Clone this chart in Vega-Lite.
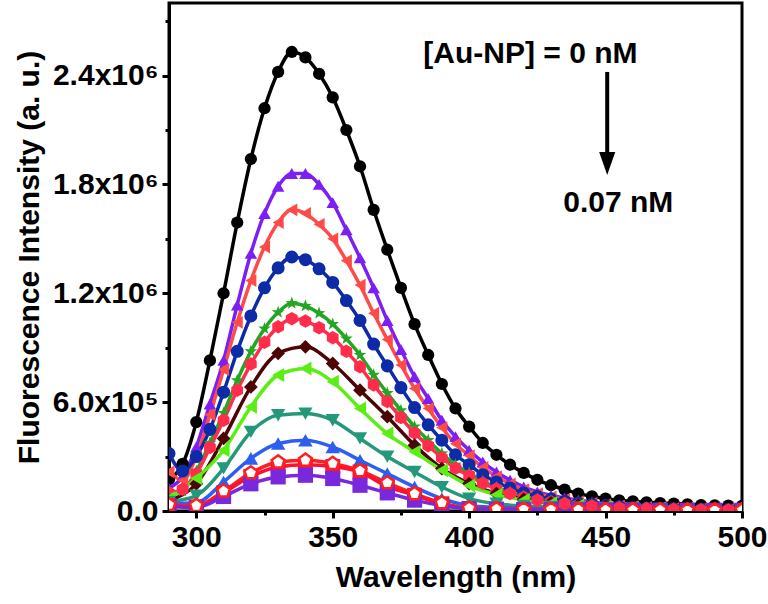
{
  "$schema": "https://vega.github.io/schema/vega-lite/v6.json",
  "width": 573,
  "height": 508,
  "autosize": "none",
  "padding": {"left": 169, "top": 3, "right": 26, "bottom": 93},
  "config": {
    "font": "Liberation Sans",
    "view": {"stroke": "black", "strokeWidth": 3},
    "axis": {
      "grid": false,
      "domainColor": "black",
      "domainWidth": 3,
      "tickColor": "black",
      "tickWidth": 3,
      "labelColor": "black",
      "labelFontSize": 30,
      "labelFontWeight": "bold",
      "labelFlush": false,
      "labelOverlap": false,
      "titleColor": "black",
      "titleFontSize": 30,
      "titleFontWeight": "bold"
    }
  },
  "datasets": {
    "spectra": [
      {"s":"s01","wl":290,"v":175000},{"s":"s01","wl":295,"v":260000},{"s":"s01","wl":300,"v":490000},{"s":"s01","wl":305,"v":830000},{"s":"s01","wl":310,"v":1200000},{"s":"s01","wl":315,"v":1590000},{"s":"s01","wl":320,"v":1940000},{"s":"s01","wl":325,"v":2220000},{"s":"s01","wl":330,"v":2420000},{"s":"s01","wl":335,"v":2530000},{"s":"s01","wl":340,"v":2500000},{"s":"s01","wl":345,"v":2410000},{"s":"s01","wl":350,"v":2280000},{"s":"s01","wl":355,"v":2100000},{"s":"s01","wl":360,"v":1900000},{"s":"s01","wl":365,"v":1660000},{"s":"s01","wl":370,"v":1440000},{"s":"s01","wl":375,"v":1230000},{"s":"s01","wl":380,"v":1030000},{"s":"s01","wl":385,"v":860000},{"s":"s01","wl":390,"v":700000},{"s":"s01","wl":395,"v":565000},{"s":"s01","wl":400,"v":465000},{"s":"s01","wl":405,"v":375000},{"s":"s01","wl":410,"v":310000},{"s":"s01","wl":415,"v":255000},{"s":"s01","wl":420,"v":210000},{"s":"s01","wl":425,"v":172000},{"s":"s01","wl":430,"v":142000},{"s":"s01","wl":435,"v":118000},{"s":"s01","wl":440,"v":96000},{"s":"s01","wl":445,"v":81000},{"s":"s01","wl":450,"v":68000},{"s":"s01","wl":455,"v":59000},{"s":"s01","wl":460,"v":53000},{"s":"s01","wl":465,"v":48000},{"s":"s01","wl":470,"v":44000},{"s":"s01","wl":475,"v":41000},{"s":"s01","wl":480,"v":37000},{"s":"s01","wl":485,"v":33000},{"s":"s01","wl":490,"v":31000},{"s":"s01","wl":495,"v":30000},{"s":"s01","wl":500,"v":28000},
      {"s":"s02","wl":290,"v":125000},{"s":"s02","wl":295,"v":190000},{"s":"s02","wl":300,"v":353000},{"s":"s02","wl":305,"v":590000},{"s":"s02","wl":310,"v":830000},{"s":"s02","wl":315,"v":1135000},{"s":"s02","wl":320,"v":1420000},{"s":"s02","wl":325,"v":1640000},{"s":"s02","wl":330,"v":1790000},{"s":"s02","wl":335,"v":1860000},{"s":"s02","wl":340,"v":1860000},{"s":"s02","wl":345,"v":1800000},{"s":"s02","wl":350,"v":1700000},{"s":"s02","wl":355,"v":1550000},{"s":"s02","wl":360,"v":1395000},{"s":"s02","wl":365,"v":1230000},{"s":"s02","wl":370,"v":1050000},{"s":"s02","wl":375,"v":890000},{"s":"s02","wl":380,"v":740000},{"s":"s02","wl":385,"v":620000},{"s":"s02","wl":390,"v":500000},{"s":"s02","wl":395,"v":410000},{"s":"s02","wl":400,"v":335000},{"s":"s02","wl":405,"v":270000},{"s":"s02","wl":410,"v":215000},{"s":"s02","wl":415,"v":170000},{"s":"s02","wl":420,"v":133000},{"s":"s02","wl":425,"v":105000},{"s":"s02","wl":430,"v":87000},{"s":"s02","wl":435,"v":72000},{"s":"s02","wl":440,"v":60000},{"s":"s02","wl":445,"v":50000},{"s":"s02","wl":450,"v":40000},{"s":"s02","wl":455,"v":33000},{"s":"s02","wl":460,"v":27000},{"s":"s02","wl":465,"v":23000},{"s":"s02","wl":470,"v":19000},{"s":"s02","wl":475,"v":16000},{"s":"s02","wl":480,"v":14000},{"s":"s02","wl":485,"v":12000},{"s":"s02","wl":490,"v":11000},{"s":"s02","wl":495,"v":10000},{"s":"s02","wl":500,"v":9000},
      {"s":"s03","wl":290,"v":215000},{"s":"s03","wl":295,"v":170000},{"s":"s03","wl":300,"v":300000},{"s":"s03","wl":305,"v":530000},{"s":"s03","wl":310,"v":780000},{"s":"s03","wl":315,"v":1040000},{"s":"s03","wl":320,"v":1270000},{"s":"s03","wl":325,"v":1455000},{"s":"s03","wl":330,"v":1590000},{"s":"s03","wl":335,"v":1660000},{"s":"s03","wl":340,"v":1640000},{"s":"s03","wl":345,"v":1580000},{"s":"s03","wl":350,"v":1500000},{"s":"s03","wl":355,"v":1380000},{"s":"s03","wl":360,"v":1245000},{"s":"s03","wl":365,"v":1090000},{"s":"s03","wl":370,"v":945000},{"s":"s03","wl":375,"v":805000},{"s":"s03","wl":380,"v":675000},{"s":"s03","wl":385,"v":565000},{"s":"s03","wl":390,"v":460000},{"s":"s03","wl":395,"v":370000},{"s":"s03","wl":400,"v":305000},{"s":"s03","wl":405,"v":240000},{"s":"s03","wl":410,"v":190000},{"s":"s03","wl":415,"v":150000},{"s":"s03","wl":420,"v":118000},{"s":"s03","wl":425,"v":95000},{"s":"s03","wl":430,"v":78000},{"s":"s03","wl":435,"v":65000},{"s":"s03","wl":440,"v":52000},{"s":"s03","wl":445,"v":43000},{"s":"s03","wl":450,"v":35000},{"s":"s03","wl":455,"v":28000},{"s":"s03","wl":460,"v":24000},{"s":"s03","wl":465,"v":20000},{"s":"s03","wl":470,"v":17000},{"s":"s03","wl":475,"v":14000},{"s":"s03","wl":480,"v":12000},{"s":"s03","wl":485,"v":11000},{"s":"s03","wl":490,"v":10000},{"s":"s03","wl":495,"v":9000},{"s":"s03","wl":500,"v":8000},
      {"s":"s04","wl":290,"v":317000},{"s":"s04","wl":295,"v":220000},{"s":"s04","wl":300,"v":300000},{"s":"s04","wl":305,"v":450000},{"s":"s04","wl":310,"v":655000},{"s":"s04","wl":315,"v":880000},{"s":"s04","wl":320,"v":1075000},{"s":"s04","wl":325,"v":1230000},{"s":"s04","wl":330,"v":1340000},{"s":"s04","wl":335,"v":1400000},{"s":"s04","wl":340,"v":1385000},{"s":"s04","wl":345,"v":1335000},{"s":"s04","wl":350,"v":1260000},{"s":"s04","wl":355,"v":1160000},{"s":"s04","wl":360,"v":1050000},{"s":"s04","wl":365,"v":920000},{"s":"s04","wl":370,"v":800000},{"s":"s04","wl":375,"v":680000},{"s":"s04","wl":380,"v":570000},{"s":"s04","wl":385,"v":475000},{"s":"s04","wl":390,"v":390000},{"s":"s04","wl":395,"v":310000},{"s":"s04","wl":400,"v":255000},{"s":"s04","wl":405,"v":200000},{"s":"s04","wl":410,"v":160000},{"s":"s04","wl":415,"v":127000},{"s":"s04","wl":420,"v":100000},{"s":"s04","wl":425,"v":80000},{"s":"s04","wl":430,"v":66000},{"s":"s04","wl":435,"v":54000},{"s":"s04","wl":440,"v":44000},{"s":"s04","wl":445,"v":36000},{"s":"s04","wl":450,"v":30000},{"s":"s04","wl":455,"v":24000},{"s":"s04","wl":460,"v":20000},{"s":"s04","wl":465,"v":17000},{"s":"s04","wl":470,"v":14000},{"s":"s04","wl":475,"v":12000},{"s":"s04","wl":480,"v":10000},{"s":"s04","wl":485,"v":9000},{"s":"s04","wl":490,"v":8000},{"s":"s04","wl":495,"v":7500},{"s":"s04","wl":500,"v":7000},
      {"s":"s05","wl":290,"v":90000},{"s":"s05","wl":295,"v":110000},{"s":"s05","wl":300,"v":220000},{"s":"s05","wl":305,"v":375000},{"s":"s05","wl":310,"v":540000},{"s":"s05","wl":315,"v":720000},{"s":"s05","wl":320,"v":880000},{"s":"s05","wl":325,"v":1005000},{"s":"s05","wl":330,"v":1095000},{"s":"s05","wl":335,"v":1145000},{"s":"s05","wl":340,"v":1130000},{"s":"s05","wl":345,"v":1090000},{"s":"s05","wl":350,"v":1030000},{"s":"s05","wl":355,"v":950000},{"s":"s05","wl":360,"v":860000},{"s":"s05","wl":365,"v":750000},{"s":"s05","wl":370,"v":650000},{"s":"s05","wl":375,"v":555000},{"s":"s05","wl":380,"v":465000},{"s":"s05","wl":385,"v":390000},{"s":"s05","wl":390,"v":317000},{"s":"s05","wl":395,"v":255000},{"s":"s05","wl":400,"v":210000},{"s":"s05","wl":405,"v":165000},{"s":"s05","wl":410,"v":130000},{"s":"s05","wl":415,"v":104000},{"s":"s05","wl":420,"v":81000},{"s":"s05","wl":425,"v":65000},{"s":"s05","wl":430,"v":54000},{"s":"s05","wl":435,"v":45000},{"s":"s05","wl":440,"v":36000},{"s":"s05","wl":445,"v":30000},{"s":"s05","wl":450,"v":24000},{"s":"s05","wl":455,"v":20000},{"s":"s05","wl":460,"v":17000},{"s":"s05","wl":465,"v":14000},{"s":"s05","wl":470,"v":12000},{"s":"s05","wl":475,"v":10000},{"s":"s05","wl":480,"v":9000},{"s":"s05","wl":485,"v":8000},{"s":"s05","wl":490,"v":7000},{"s":"s05","wl":495,"v":6000},{"s":"s05","wl":500,"v":5500},
      {"s":"s06","wl":290,"v":100000},{"s":"s06","wl":295,"v":120000},{"s":"s06","wl":300,"v":205000},{"s":"s06","wl":305,"v":350000},{"s":"s06","wl":310,"v":500000},{"s":"s06","wl":315,"v":665000},{"s":"s06","wl":320,"v":810000},{"s":"s06","wl":325,"v":930000},{"s":"s06","wl":330,"v":1015000},{"s":"s06","wl":335,"v":1060000},{"s":"s06","wl":340,"v":1047000},{"s":"s06","wl":345,"v":1010000},{"s":"s06","wl":350,"v":955000},{"s":"s06","wl":355,"v":880000},{"s":"s06","wl":360,"v":795000},{"s":"s06","wl":365,"v":695000},{"s":"s06","wl":370,"v":603000},{"s":"s06","wl":375,"v":515000},{"s":"s06","wl":380,"v":430000},{"s":"s06","wl":385,"v":360000},{"s":"s06","wl":390,"v":293000},{"s":"s06","wl":395,"v":236000},{"s":"s06","wl":400,"v":195000},{"s":"s06","wl":405,"v":153000},{"s":"s06","wl":410,"v":122000},{"s":"s06","wl":415,"v":96000},{"s":"s06","wl":420,"v":75000},{"s":"s06","wl":425,"v":60000},{"s":"s06","wl":430,"v":50000},{"s":"s06","wl":435,"v":41000},{"s":"s06","wl":440,"v":33000},{"s":"s06","wl":445,"v":28000},{"s":"s06","wl":450,"v":22000},{"s":"s06","wl":455,"v":18000},{"s":"s06","wl":460,"v":15000},{"s":"s06","wl":465,"v":13000},{"s":"s06","wl":470,"v":11000},{"s":"s06","wl":475,"v":9000},{"s":"s06","wl":480,"v":8000},{"s":"s06","wl":485,"v":7000},{"s":"s06","wl":490,"v":6000},{"s":"s06","wl":495,"v":5600},{"s":"s06","wl":500,"v":5000},
      {"s":"s07","wl":290,"v":60000},{"s":"s07","wl":300,"v":150000},{"s":"s07","wl":310,"v":400000},{"s":"s07","wl":320,"v":684000},{"s":"s07","wl":330,"v":869000},{"s":"s07","wl":340,"v":905000},{"s":"s07","wl":350,"v":813000},{"s":"s07","wl":360,"v":666000},{"s":"s07","wl":370,"v":520000},{"s":"s07","wl":380,"v":363000},{"s":"s07","wl":390,"v":234000},{"s":"s07","wl":400,"v":151000},{"s":"s07","wl":410,"v":96000},{"s":"s07","wl":420,"v":65000},{"s":"s07","wl":430,"v":45000},{"s":"s07","wl":440,"v":33000},{"s":"s07","wl":450,"v":25000},{"s":"s07","wl":460,"v":20000},{"s":"s07","wl":470,"v":16000},{"s":"s07","wl":480,"v":13000},{"s":"s07","wl":490,"v":11000},{"s":"s07","wl":500,"v":10000},
      {"s":"s08","wl":290,"v":70000},{"s":"s08","wl":300,"v":180000},{"s":"s08","wl":310,"v":335000},{"s":"s08","wl":320,"v":574000},{"s":"s08","wl":330,"v":749000},{"s":"s08","wl":340,"v":786000},{"s":"s08","wl":350,"v":712000},{"s":"s08","wl":360,"v":565000},{"s":"s08","wl":370,"v":427000},{"s":"s08","wl":380,"v":326000},{"s":"s08","wl":390,"v":225000},{"s":"s08","wl":400,"v":140000},{"s":"s08","wl":410,"v":90000},{"s":"s08","wl":420,"v":60000},{"s":"s08","wl":430,"v":42000},{"s":"s08","wl":440,"v":30000},{"s":"s08","wl":450,"v":22000},{"s":"s08","wl":460,"v":17000},{"s":"s08","wl":470,"v":14000},{"s":"s08","wl":480,"v":12000},{"s":"s08","wl":490,"v":10000},{"s":"s08","wl":500,"v":9000},
      {"s":"s09","wl":290,"v":50000},{"s":"s09","wl":300,"v":85000},{"s":"s09","wl":310,"v":235000},{"s":"s09","wl":320,"v":436000},{"s":"s09","wl":330,"v":528000},{"s":"s09","wl":340,"v":537000},{"s":"s09","wl":350,"v":500000},{"s":"s09","wl":360,"v":400000},{"s":"s09","wl":370,"v":300000},{"s":"s09","wl":380,"v":215000},{"s":"s09","wl":390,"v":132000},{"s":"s09","wl":400,"v":68000},{"s":"s09","wl":410,"v":40000},{"s":"s09","wl":420,"v":28000},{"s":"s09","wl":430,"v":22000},{"s":"s09","wl":440,"v":18000},{"s":"s09","wl":450,"v":15000},{"s":"s09","wl":460,"v":13000},{"s":"s09","wl":470,"v":11000},{"s":"s09","wl":480,"v":10000},{"s":"s09","wl":490,"v":9000},{"s":"s09","wl":500,"v":8000},
      {"s":"s10","wl":290,"v":40000},{"s":"s10","wl":300,"v":45000},{"s":"s10","wl":310,"v":160000},{"s":"s10","wl":320,"v":290000},{"s":"s10","wl":330,"v":372000},{"s":"s10","wl":340,"v":390000},{"s":"s10","wl":350,"v":353000},{"s":"s10","wl":360,"v":280000},{"s":"s10","wl":370,"v":206000},{"s":"s10","wl":380,"v":132000},{"s":"s10","wl":390,"v":68000},{"s":"s10","wl":400,"v":30000},{"s":"s10","wl":410,"v":20000},{"s":"s10","wl":420,"v":16000},{"s":"s10","wl":430,"v":13000},{"s":"s10","wl":440,"v":11000},{"s":"s10","wl":450,"v":10000},{"s":"s10","wl":460,"v":9000},{"s":"s10","wl":470,"v":8000},{"s":"s10","wl":480,"v":7000},{"s":"s10","wl":490,"v":6000},{"s":"s10","wl":500,"v":6000},
      {"s":"s11","wl":290,"v":35000},{"s":"s11","wl":300,"v":30000},{"s":"s11","wl":310,"v":110000},{"s":"s11","wl":320,"v":210000},{"s":"s11","wl":330,"v":270000},{"s":"s11","wl":340,"v":280000},{"s":"s11","wl":350,"v":262000},{"s":"s11","wl":360,"v":222000},{"s":"s11","wl":370,"v":155000},{"s":"s11","wl":380,"v":95000},{"s":"s11","wl":390,"v":45000},{"s":"s11","wl":400,"v":16000},{"s":"s11","wl":410,"v":12000},{"s":"s11","wl":420,"v":10000},{"s":"s11","wl":430,"v":9000},{"s":"s11","wl":440,"v":8000},{"s":"s11","wl":450,"v":7000},{"s":"s11","wl":460,"v":6000},{"s":"s11","wl":470,"v":6000},{"s":"s11","wl":480,"v":5000},{"s":"s11","wl":490,"v":5000},{"s":"s11","wl":500,"v":5000},
      {"s":"s12","wl":290,"v":30000},{"s":"s12","wl":300,"v":22000},{"s":"s12","wl":310,"v":100000},{"s":"s12","wl":320,"v":190000},{"s":"s12","wl":330,"v":243000},{"s":"s12","wl":340,"v":255000},{"s":"s12","wl":350,"v":245000},{"s":"s12","wl":360,"v":215000},{"s":"s12","wl":370,"v":135000},{"s":"s12","wl":380,"v":87000},{"s":"s12","wl":390,"v":40000},{"s":"s12","wl":400,"v":13000},{"s":"s12","wl":410,"v":10000},{"s":"s12","wl":420,"v":8000},{"s":"s12","wl":430,"v":7000},{"s":"s12","wl":440,"v":6000},{"s":"s12","wl":450,"v":5000},{"s":"s12","wl":460,"v":5000},{"s":"s12","wl":470,"v":4000},{"s":"s12","wl":480,"v":4000},{"s":"s12","wl":490,"v":4000},{"s":"s12","wl":500,"v":4000},
      {"s":"s13","wl":290,"v":25000},{"s":"s13","wl":300,"v":20000},{"s":"s13","wl":310,"v":80000},{"s":"s13","wl":320,"v":150000},{"s":"s13","wl":330,"v":188000},{"s":"s13","wl":340,"v":197000},{"s":"s13","wl":350,"v":179000},{"s":"s13","wl":360,"v":142000},{"s":"s13","wl":370,"v":100000},{"s":"s13","wl":380,"v":60000},{"s":"s13","wl":390,"v":30000},{"s":"s13","wl":400,"v":12000},{"s":"s13","wl":410,"v":9000},{"s":"s13","wl":420,"v":7000},{"s":"s13","wl":430,"v":6000},{"s":"s13","wl":440,"v":5000},{"s":"s13","wl":450,"v":4000},{"s":"s13","wl":460,"v":4000},{"s":"s13","wl":470,"v":3000},{"s":"s13","wl":480,"v":3000},{"s":"s13","wl":490,"v":3000},{"s":"s13","wl":500,"v":3000}
    ],
    "notes": [
      {"label": "[Au-NP] = 0 nM", "wl": 383.2, "v": 2520000},
      {"label": "0.07 nM", "wl": 434.5, "v": 1700000}
    ],
    "arrow": [
      {"wl": 450.6, "top": 2420000, "bottom": 1950000, "head": 1916000}
    ]
  },
  "resolve": {"axis": {"x": "independent", "y": "independent"}},
  "layer": [
    {
      "data": {"name": "spectra"},
      "mark": {"type": "line", "strokeWidth": 3.5, "interpolate": "monotone", "clip": true},
      "encoding": {
        "x": {
          "field": "wl", "type": "quantitative",
          "scale": {"domain": [290, 500], "nice": false, "zero": false},
          "axis": {"values": [300, 350, 400, 450, 500], "title": "Wavelength (nm)", "orient": "bottom", "tickSize": 7, "labelPadding": 4, "titlePadding": 10}
        },
        "y": {
          "field": "v", "type": "quantitative",
          "scale": {"domain": [0, 2800000], "nice": false},
          "axis": {
            "values": [0, 600000, 1200000, 1800000, 2400000],
            "title": "Fluorescence Intensity (a. u.)",
            "orient": "left", "tickSize": 7, "labelPadding": 4, "titlePadding": 8,
            "labelExpr": "datum.value == 0 ? '0.0' : datum.value < 1000000 ? format(datum.value / 100000, '.1f') + 'x10⁵' : format(datum.value / 1000000, '.1f') + 'x10⁶'"
          }
        },
        "color": {
          "field": "s", "type": "nominal", "legend": null,
          "scale": {
            "domain": ["s01","s02","s03","s04","s05","s06","s07","s08","s09","s10","s11","s12","s13"],
            "range": ["#000000","#7B1FF2","#FF4A4A","#0D2BA6","#24A524","#FF2D4B","#4D0404","#5CEE14","#24987A","#2C5FF0","#FF1F1F","#FF1030","#7A28DC"]
          }
        },
        "order": {"field": "wl", "type": "quantitative"}
      }
    },
    {
      "data": {"name": "spectra"},
      "transform": [{"filter": "datum.s != 's11'"}],
      "mark": {"type": "point", "filled": true, "opacity": 1, "clip": true},
      "encoding": {
        "x": {
          "field": "wl", "type": "quantitative",
          "axis": {"values": [325, 375, 425, 475], "orient": "bottom", "labels": false, "domain": false, "tickSize": 4, "title": null}
        },
        "y": {
          "field": "v", "type": "quantitative",
          "axis": {"values": [300000, 900000, 1500000, 2100000, 2700000], "orient": "left", "labels": false, "domain": false, "tickSize": 4, "title": null}
        },
        "color": {"field": "s", "type": "nominal", "legend": null},
        "shape": {
          "field": "s", "type": "nominal", "legend": null,
          "scale": {
            "domain": ["s01","s02","s03","s04","s05","s06","s07","s08","s09","s10","s11","s12","s13"],
            "range": [
              "circle", "triangle-up", "triangle-left", "circle",
              "M0,-1L0.235,-0.324L0.951,-0.309L0.38,0.124L0.588,0.809L0,0.4L-0.588,0.809L-0.38,0.124L-0.951,-0.309L-0.235,-0.324Z",
              "M0,-1L0.866,-0.5L0.866,0.5L0,1L-0.866,0.5L-0.866,-0.5Z",
              "diamond", "triangle-left", "triangle-down", "triangle-up", "square", "square", "square"
            ]
          }
        },
        "size": {
          "field": "s", "type": "nominal", "legend": null,
          "scale": {
            "domain": ["s01","s02","s03","s04","s05","s06","s07","s08","s09","s10","s11","s12","s13"],
            "range": [150, 230, 220, 140, 320, 170, 230, 230, 240, 240, 180, 130, 130]
          }
        }
      }
    },
    {
      "data": {"name": "spectra"},
      "transform": [{"filter": "datum.s == 's11'"}],
      "mark": {
        "type": "point",
        "shape": "M0,-1L0.95,-0.31L0.59,0.81L-0.59,0.81L-0.95,-0.31Z",
        "size": 180, "fill": "white", "stroke": "#FF1F1F", "strokeWidth": 2.5, "opacity": 1, "clip": true
      },
      "encoding": {
        "x": {"field": "wl", "type": "quantitative", "axis": null},
        "y": {"field": "v", "type": "quantitative", "axis": null}
      }
    },
    {
      "data": {"name": "notes"},
      "mark": {"type": "text", "align": "left", "baseline": "middle", "fontSize": 30, "fontWeight": "bold", "color": "black"},
      "encoding": {
        "x": {"field": "wl", "type": "quantitative", "axis": null},
        "y": {"field": "v", "type": "quantitative", "axis": null},
        "text": {"field": "label"}
      }
    },
    {
      "data": {"name": "arrow"},
      "mark": {"type": "rule", "strokeWidth": 4, "color": "black"},
      "encoding": {
        "x": {"field": "wl", "type": "quantitative", "axis": null},
        "y": {"field": "top", "type": "quantitative", "axis": null},
        "y2": {"field": "bottom"}
      }
    },
    {
      "data": {"name": "arrow"},
      "mark": {"type": "point", "shape": "M-0.7,-1L0.7,-1L0,1Z", "size": 529, "filled": true, "color": "black", "opacity": 1},
      "encoding": {
        "x": {"field": "wl", "type": "quantitative", "axis": null},
        "y": {"field": "head", "type": "quantitative", "axis": null}
      }
    }
  ]
}
